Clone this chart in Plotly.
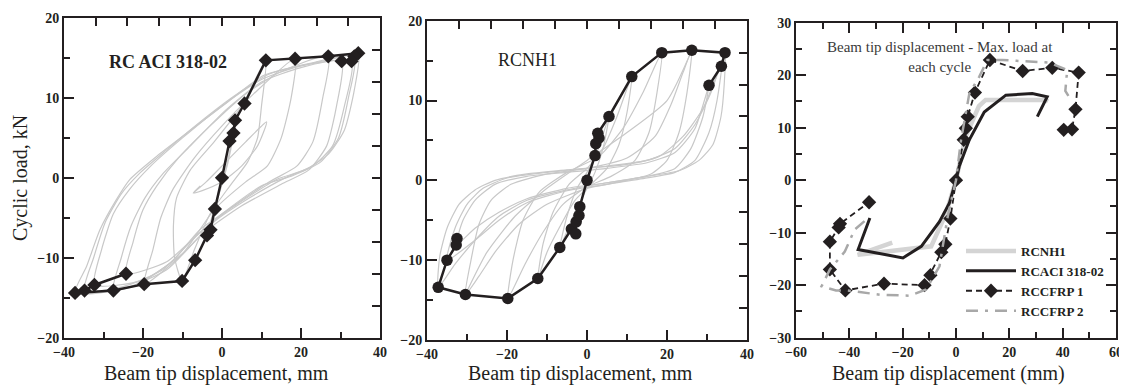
import plotly.graph_objects as go

OFF = 8                      # default page body margin of the written html
W, H = 1127 - OFF, 385 - OFF
SERIF = "Liberation Serif"
INK = "#231f20"
LOOP_GRAY = "#c8c8c8"

# ---------------- Panel 1: RC ACI 318-02 ----------------
aci_env_x = [-24.3, -32.3, -34.8, -37.2, -27.5, -19.7, -10.1, -6.8, -3.8, -2.9, -1.8, 0.0,
             1.9, 2.9, 3.3, 5.7, 11.1, 18.5, 26.9, 34.5, 33.5, 32.8, 30.3]
aci_env_y = [-12.0, -13.4, -14.1, -14.4, -14.1, -13.3, -12.9, -10.3, -7.2, -6.5, -3.9, 0.0,
             4.6, 5.6, 7.2, 9.3, 14.7, 14.9, 15.2, 15.6, 15.2, 14.6, 14.6]

aci_loop_0 = [(-3.8, -7.2), (-2.0, -4.0), (0.0, -0.8), (1.8, 3.0), (3.3, 7.2), (2.2, 3.5),
              (0.5, 0.0), (-1.5, -3.0), (-3.8, -7.2)]
aci_loop_1 = [(-7.3, -1.9), (-4.0, -0.5), (1.0, 2.0), (6.0, 4.5), (11.3, 7.0), (9.0, 4.0),
              (5.0, 1.5), (0.0, -0.5), (-5.0, -1.6), (-7.3, -1.9), (-5.5, -1.0)]
aci_loop_2 = [(-10.1, -12.9), (-12.0, -10.0), (-12.3, -6.0), (-11.5, -2.5), (-8.0, 1.0),
              (-2.0, 4.5), (5.0, 9.0), (11.1, 14.7), (10.0, 9.0), (9.0, 5.0), (6.5, 2.0),
              (2.0, -1.0), (-3.0, -4.5), (-7.0, -9.0), (-10.1, -12.9)]
aci_loop_3 = [(-19.7, -13.3), (-17.5, -9.0), (-15.5, -5.0), (-12.5, -1.5), (-7.0, 2.5),
              (0.0, 6.5), (8.0, 10.5), (18.5, 14.9), (17.5, 10.0), (15.0, 5.0), (11.5, 1.5),
              (6.0, -0.5), (-2.0, -4.0), (-10.0, -9.5), (-19.7, -13.3)]
aci_loop_4 = [(-24.3, -12.0), (-22.5, -8.0), (-20.0, -4.0), (-16.5, -1.0), (-11.0, 2.5),
              (-3.0, 6.5), (6.0, 10.5), (15.0, 13.3), (26.9, 15.2), (25.5, 10.0), (23.0, 4.5),
              (19.0, 1.5), (12.0, -0.5), (3.0, -3.5), (-6.0, -7.0), (-14.0, -10.5), (-24.3, -12.0)]
aci_loop_5 = [(-27.5, -14.1), (-25.5, -10.0), (-23.0, -6.0), (-19.5, -2.5), (-15.0, 0.5),
              (-8.0, 4.0), (1.0, 8.5), (10.0, 12.0), (20.0, 13.8), (30.3, 14.6), (29.0, 9.0),
              (26.5, 4.0), (22.0, 1.0), (15.0, -0.8), (5.0, -3.5), (-5.0, -7.0), (-14.0, -11.5),
              (-27.5, -14.1)]
aci_loop_6 = [(-32.3, -13.4), (-30.5, -9.0), (-27.5, -4.5), (-23.5, -1.5), (-18.0, 1.5),
              (-10.0, 5.0), (0.0, 9.0), (10.0, 12.3), (20.0, 14.0), (32.8, 14.6), (31.0, 9.0),
              (28.0, 4.0), (23.0, 1.5), (16.0, 0.0), (7.0, -2.5), (-2.0, -5.5), (-10.0, -9.5),
              (-20.0, -12.8), (-32.3, -13.4)]
aci_loop_7 = [(-34.8, -14.1), (-32.5, -10.0), (-29.5, -5.5), (-25.5, -2.0), (-21.0, 0.5),
              (-14.0, 3.5), (-6.0, 6.8), (3.0, 10.2), (12.0, 13.0), (22.0, 14.3), (33.5, 15.2),
              (32.0, 10.0), (29.5, 5.0), (25.0, 2.0), (18.0, 0.3), (10.0, -1.0), (0.0, -4.5),
              (-8.0, -8.0), (-15.0, -11.5), (-25.0, -13.6), (-34.8, -14.1)]
aci_loop_8 = [(-37.2, -14.4), (-34.3, -11.1), (-30.9, -6.5), (-26.7, -2.7), (-23.3, -0.2),
              (-16.5, 2.7), (-8.9, 5.6), (1.2, 9.4), (10.5, 12.8), (19.7, 14.0), (28.2, 14.9),
              (34.5, 15.6), (33.5, 11.0), (31.0, 6.0), (27.0, 3.0), (21.0, 1.0), (13.8, -0.2),
              (2.9, -3.6), (-5.6, -6.5), (-12.3, -10.3), (-22.4, -13.6), (-37.2, -14.4)]
aci_loops = [aci_loop_0, aci_loop_1, aci_loop_2, aci_loop_3, aci_loop_4,
             aci_loop_5, aci_loop_6, aci_loop_7, aci_loop_8]

# ---------------- Panel 2: RCNH1 ----------------
nh_env_x = [-32.5, -32.7, -35.0, -37.2, -30.4, -19.8, -12.3, -6.8, -3.9, -2.8, -2.7, -2.0,
            -1.8, 0.0, 2.0, 2.2, 3.0, 2.7, 5.5, 11.2, 18.7, 26.2, 34.5, 33.6, 30.5]
nh_env_y = [-7.3, -8.1, -10.0, -13.4, -14.3, -14.8, -12.3, -8.4, -6.1, -6.7, -5.2, -4.4,
            -3.3, 0.0, 3.1, 4.6, 5.3, 5.9, 8.0, 13.0, 16.0, 16.3, 16.0, 14.3, 11.9]

nh_loop_1 = [(-6.8, -8.4), (-5.0, -4.5), (-2.5, -1.0), (0.0, 1.0), (2.5, 3.5), (5.5, 8.0),
             (4.0, 4.0), (2.0, 1.0), (-0.5, -1.5), (-3.0, -4.0), (-6.8, -8.4)]
nh_loop_2 = [(-12.3, -12.3), (-11.0, -8.0), (-8.5, -4.0), (-4.5, -0.5), (0.0, 1.5), (4.0, 4.0),
             (7.5, 8.0), (11.2, 13.0), (10.0, 8.5), (8.0, 4.5), (5.0, 1.5), (1.0, -0.5),
             (-3.0, -2.5), (-7.0, -6.0), (-10.0, -9.0), (-12.3, -12.3)]
nh_loop_3 = [(-19.8, -14.8), (-18.5, -10.0), (-16.0, -5.0), (-12.0, -1.5), (-5.0, 1.0),
             (3.0, 3.0), (9.0, 6.5), (14.0, 11.0), (18.7, 16.0), (17.5, 11.0), (15.5, 6.0),
             (12.0, 2.5), (6.0, 0.5), (0.0, -0.8), (-6.0, -3.0), (-11.0, -6.5), (-15.5, -10.5),
             (-19.8, -14.8)]
nh_loop_4 = [(-30.4, -14.3), (-29.0, -10.0), (-27.0, -5.5), (-24.0, -2.5), (-19.0, -0.5),
             (-10.0, 0.8), (0.0, 1.5), (10.0, 2.8), (17.0, 5.5), (21.0, 9.5), (24.0, 13.5),
             (26.2, 16.3), (25.0, 11.0), (23.0, 6.0), (20.0, 2.5), (16.0, 0.8), (8.0, -0.2),
             (0.0, -1.0), (-10.0, -3.0), (-17.0, -5.5), (-23.0, -9.0), (-27.0, -12.0),
             (-30.4, -14.3)]
nh_loop_5 = [(-30.4, -14.3), (-25.0, -9.0), (-18.0, -4.5), (-10.0, -1.0), (0.0, 2.5),
             (10.0, 6.0), (20.0, 10.0), (26.2, 16.3)]
nh_loop_6 = [(-37.2, -13.4), (-36.8, -9.5), (-35.0, -6.0), (-32.0, -3.0), (-28.0, -1.2),
             (-23.0, 0.0), (-15.0, 0.8), (-5.0, 1.3), (5.0, 1.8), (15.0, 2.5), (22.0, 4.0),
             (27.0, 7.0), (31.0, 11.0), (34.5, 16.0), (34.3, 12.0), (33.5, 8.0), (31.5, 4.5),
             (28.0, 2.5), (23.0, 1.2), (15.0, 0.5), (5.0, -0.3), (-5.0, -1.2), (-15.0, -2.5),
             (-22.0, -4.5), (-28.0, -7.5), (-33.0, -10.5), (-37.2, -13.4)]
nh_loop_7 = [(-35.0, -10.0), (-33.0, -6.0), (-30.0, -3.0), (-26.0, -1.0), (-20.0, 0.3),
             (-10.0, 1.0), (0.0, 1.5), (10.0, 2.0), (18.0, 3.0), (24.0, 5.5), (29.0, 9.0),
             (33.6, 14.3), (32.5, 10.0), (30.5, 6.0), (27.0, 2.5), (22.0, 1.0), (15.0, 0.3),
             (5.0, -0.5), (-5.0, -1.3), (-15.0, -2.8), (-22.0, -5.0), (-28.0, -7.5),
             (-35.0, -10.0)]
nh_loop_8 = [(-32.7, -8.1), (-31.0, -5.0), (-28.0, -2.5), (-23.0, -0.5), (-15.0, 0.5),
             (-5.0, 1.0), (5.0, 1.5), (15.0, 2.2), (22.0, 3.5), (27.0, 6.5), (30.5, 11.9),
             (29.0, 8.0), (26.0, 4.0), (22.0, 1.5), (15.0, 0.5), (5.0, -0.3), (-5.0, -1.0),
             (-15.0, -2.3), (-22.0, -4.0), (-28.0, -6.0), (-32.7, -8.1)]
nh_loops = [nh_loop_1, nh_loop_2, nh_loop_3, nh_loop_4, nh_loop_5,
            nh_loop_6, nh_loop_7, nh_loop_8]

# ---------------- Panel 3: envelopes ----------------
rcnh1_x = [-23.9, -34.2, -36.9, -30.0, -19.7, -9.3, -3.7, 0.0, 3.6, 8.6, 11.1, 33.4, 34.5]
rcnh1_y = [-11.9, -13.9, -14.2, -13.8, -13.2, -12.6, -6.3, 0.0, 8.3, 14.1, 15.3, 15.3, 15.0]

rcaci_x = [30.5, 34.2, 28.6, 18.7, 10.6, 5.0, 1.2, 0.0, -2.5, -6.2, -13.0, -19.9, -36.7, -32.3]
rcaci_y = [12.1, 15.9, 16.5, 16.2, 13.0, 7.7, 2.6, 0.0, -4.4, -7.9, -12.6, -14.8, -13.2, -7.2]

rccfrp1_x = [40.4, 43.5, 44.8, 46.0, 36.1, 25.0, 12.7, 7.1, 4.4, 3.7, 2.9, 0.0, -2.1, -4.0,
             -5.5, -9.6, -11.8, -27.0, -41.5, -47.3, -47.3, -44.0, -43.5, -32.6]
rccfrp1_y = [9.6, 9.7, 13.5, 20.5, 21.4, 20.8, 22.9, 16.7, 12.1, 9.9, 7.7, 0.0, -7.3, -12.2,
             -13.7, -18.1, -20.0, -19.7, -21.0, -17.0, -11.7, -9.0, -8.3, -4.2]

rccfrp2_x = [-34.3, -38.0, -41.7, -44.2, -47.3, -50.4, -45.0, -41.0, -28.6, -17.4, -11.2,
             -6.2, -3.1, 0.0, 1.9, 5.0, 8.7, 11.8, 17.4, 34.8, 41.7, 41.0, 43.5]
rccfrp2_y = [-7.8, -9.4, -13.6, -15.1, -17.0, -20.2, -21.0, -21.0, -21.8, -22.0, -20.8,
             -16.4, -6.9, 0.0, 7.7, 16.5, 19.7, 22.9, 22.9, 22.4, 21.0, 17.0, 15.0]

legend_names = ["RCNH1", "RCACI 318-02", "RCCFRP 1", "RCCFRP 2"]


# ---------------- Layout geometry (reference pixels -> paper) ----------------
def fx(px):
    return (px - OFF) / W


def fy(py):
    return 1 - (py - OFF) / H


def px_dom_x(a, b):
    return [fx(a), fx(b)]


def px_dom_y(top, bottom):
    return [fy(bottom), fy(top)]


fig = go.Figure()

for loop in aci_loops:
    fig.add_trace(go.Scatter(x=[p[0] for p in loop], y=[p[1] for p in loop], mode="lines",
                             line=dict(color=LOOP_GRAY, width=1.2, shape="spline", smoothing=0.6),
                             xaxis="x", yaxis="y", showlegend=False, hoverinfo="skip"))
fig.add_trace(go.Scatter(x=aci_env_x, y=aci_env_y, mode="lines+markers",
                         line=dict(color=INK, width=2.5),
                         marker=dict(symbol="diamond", size=11, color=INK),
                         xaxis="x", yaxis="y", showlegend=False))

for loop in nh_loops:
    fig.add_trace(go.Scatter(x=[p[0] for p in loop], y=[p[1] for p in loop], mode="lines",
                             line=dict(color=LOOP_GRAY, width=1.2, shape="spline", smoothing=0.6),
                             xaxis="x2", yaxis="y2", showlegend=False, hoverinfo="skip"))
fig.add_trace(go.Scatter(x=nh_env_x, y=nh_env_y, mode="lines+markers",
                         line=dict(color=INK, width=2.5),
                         marker=dict(symbol="circle", size=11.5, color=INK),
                         xaxis="x2", yaxis="y2", showlegend=False))

fig.add_trace(go.Scatter(x=rcnh1_x, y=rcnh1_y, mode="lines", name=legend_names[0],
                         line=dict(color="#d4d4d4", width=4.5), xaxis="x3", yaxis="y3"))
fig.add_trace(go.Scatter(x=rcaci_x, y=rcaci_y, mode="lines", name=legend_names[1],
                         line=dict(color=INK, width=3), xaxis="x3", yaxis="y3"))
fig.add_trace(go.Scatter(x=rccfrp1_x, y=rccfrp1_y, mode="lines+markers", name=legend_names[2],
                         line=dict(color=INK, width=1.8, dash="6px,4px"),
                         marker=dict(symbol="diamond", size=11, color=INK),
                         xaxis="x3", yaxis="y3"))
fig.add_trace(go.Scatter(x=rccfrp2_x, y=rccfrp2_y, mode="lines", name=legend_names[3],
                         line=dict(color="#a8a8a8", width=2.5, dash="12px,7px,3px,7px"),
                         xaxis="x3", yaxis="y3"))

# empty traces so the top/right tick axes of panels 1 and 2 are drawn
for xa, ya in [("x4", "y"), ("x", "y4"), ("x5", "y2"), ("x2", "y5")]:
    fig.add_trace(go.Scatter(x=[None], y=[None], xaxis=xa, yaxis=ya,
                             showlegend=False, hoverinfo="skip"))

tickfont = dict(family=SERIF, size=14, color=INK, weight="bold")


def main_axis(rng, dtick, mdtick, domain, anchor, mirror):
    return dict(range=rng, domain=domain, anchor=anchor, showline=True, linewidth=2,
                linecolor=INK, mirror=mirror, ticks="inside", ticklen=10, tickwidth=2,
                tickcolor=INK, tick0=0, dtick=dtick,
                minor=dict(ticks="inside", dtick=mdtick, ticklen=6, tickwidth=2,
                           tickcolor=INK, showgrid=False),
                showgrid=False, zeroline=False, tickfont=tickfont, fixedrange=True)


def tick_axis(base, anchor, side, rng, dtick):
    return dict(overlaying=base, anchor=anchor, side=side, range=rng, tick0=rng[0],
                dtick=dtick, ticks="inside", ticklen=8, tickwidth=2, tickcolor=INK,
                showticklabels=False, showline=False, showgrid=False, zeroline=False,
                fixedrange=True)


p1x, p1y = px_dom_x(64, 380), px_dom_y(18, 337.7)
p2x, p2y = px_dom_x(427, 747), px_dom_y(20.7, 340)
p3x, p3y = px_dom_x(796, 1116), px_dom_y(22.7, 337.7)

fig.update_layout(
    width=W, height=H, margin=dict(l=0, r=0, t=0, b=0),
    paper_bgcolor="white", plot_bgcolor="white", template="none",
    xaxis=main_axis([-40, 40], 20, 10, p1x, "y", True),
    yaxis=main_axis([-20, 20], 10, 5, p1y, "x", True),
    xaxis2=main_axis([-40, 40], 20, 10, p2x, "y2", True),
    yaxis2=main_axis([-20, 20], 10, 5, p2y, "x2", True),
    xaxis3=main_axis([-60, 60], 20, 10, p3x, "y3", "allticks"),
    yaxis3=main_axis([-30, 30], 10, 5, p3y, "x3", "allticks"),
    xaxis4=tick_axis("x", "y", "top", [-40, 40], 8),
    yaxis4=tick_axis("y", "x", "right", [-20, 20], 4),
    xaxis5=tick_axis("x2", "y2", "top", [-40, 40], 8),
    yaxis5=tick_axis("y2", "x2", "right", [-20, 20], 4),
    showlegend=True,
    legend=dict(x=fx(1023 - 62), y=fy(236), xanchor="left", yanchor="top",
                bgcolor="rgba(0,0,0,0)", borderwidth=0, itemwidth=50,
                font=dict(family=SERIF, size=13, color=INK, weight="bold"),
                tracegroupgap=0),
)

ann_font = dict(family=SERIF, size=20, color=INK)
fig.add_annotation(text="Beam tip displacement, mm", x=fx(216), y=fy(373),
                   xref="paper", yref="paper", showarrow=False, font=ann_font,
                   xanchor="center", yanchor="middle")
fig.add_annotation(text="Beam tip displacement, mm", x=fx(580), y=fy(373),
                   xref="paper", yref="paper", showarrow=False, font=ann_font,
                   xanchor="center", yanchor="middle")
fig.add_annotation(text="Beam tip displacement (mm)", x=fx(948), y=fy(373),
                   xref="paper", yref="paper", showarrow=False, font=ann_font,
                   xanchor="center", yanchor="middle")
fig.add_annotation(text="Cyclic load, kN", x=fx(21), y=fy(178), textangle=-90,
                   xref="paper", yref="paper", showarrow=False, font=ann_font,
                   xanchor="center", yanchor="middle")
fig.add_annotation(text="RC ACI 318-02", x=fx(168), y=fy(62), xref="paper", yref="paper",
                   showarrow=False, xanchor="center", yanchor="middle",
                   font=dict(family=SERIF, size=18, color=INK, weight="bold"))
fig.add_annotation(text="RCNH1", x=fx(527), y=fy(60), xref="paper", yref="paper",
                   showarrow=False, xanchor="center", yanchor="middle",
                   font=dict(family=SERIF, size=18, color=INK))
fig.add_annotation(text="Beam tip displacement - Max. load at<br>each cycle", x=fx(940),
                   y=fy(57), xref="paper", yref="paper", showarrow=False,
                   xanchor="center", yanchor="middle", align="center",
                   font=dict(family=SERIF, size=15, color="#3a3a3a"))

fig.write_html("out.html")
